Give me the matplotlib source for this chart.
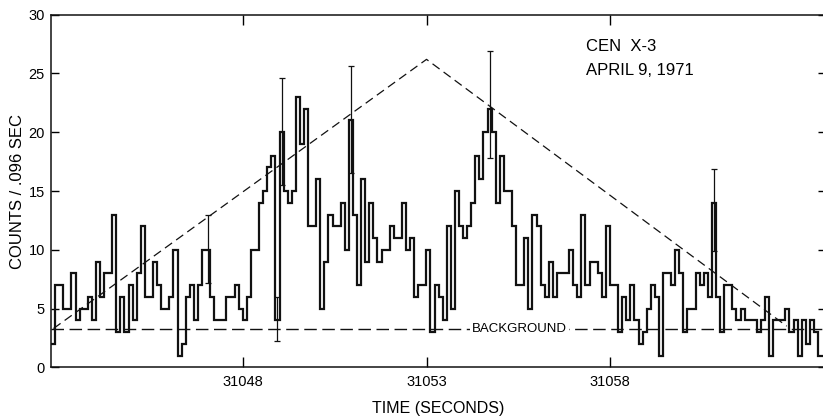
import numpy as np
import matplotlib
matplotlib.use("Agg")
import matplotlib.pyplot as plt

plt.rcParams["font.family"] = ["Liberation Sans", "DejaVu Sans"]

# Counts per time bin (Cen X-3, 1971 April 9)
t_start = 31042.784
bin_width = 0.111
counts = [
    2, 7, 7, 5, 5, 8, 4, 5, 5, 6, 4, 9, 6, 8, 8, 13, 3, 6, 3, 7,
    4, 8, 12, 6, 6, 9, 7, 5, 5, 6, 10, 1, 2, 6, 7, 4, 7, 10, 10, 6,
    4, 4, 4, 6, 6, 7, 5, 4, 6, 10, 10, 14, 15, 17, 18, 4, 20, 15, 14, 15,
    23, 19, 22, 12, 12, 16, 5, 9, 13, 12, 12, 14, 10, 21, 13, 7, 16, 9, 14, 11,
    9, 10, 10, 12, 11, 11, 14, 10, 11, 6, 7, 7, 10, 3, 7, 6, 4, 12, 5, 15,
    12, 11, 12, 14, 18, 16, 20, 22, 20, 14, 18, 15, 15, 12, 7, 7, 11, 5, 13, 12,
    7, 6, 9, 6, 8, 8, 8, 10, 7, 6, 13, 7, 9, 9, 8, 6, 12, 7, 7, 3,
    6, 4, 7, 4, 2, 3, 5, 7, 6, 1, 8, 8, 7, 10, 8, 3, 5, 5, 8, 7,
    8, 6, 14, 6, 3, 7, 7, 5, 4, 5, 4, 4, 4, 3, 4, 6, 1, 4, 4, 4,
    5, 3, 4, 1, 4, 2, 4, 3, 1, 1,
]

# Error bars on selected bins (bin index, lower and upper limits)
err_bins = [38, 55, 56, 73, 107, 162]
err_low = [7.2, 2.2, 15.5, 16.5, 17.8, 9.9]
err_high = [13.0, 6.0, 24.6, 25.6, 26.9, 16.9]

# Background level and triangular envelope
background = 3.3
envelope_t = [31042.85, 31053.0, 31062.8]
envelope_y = [3.3, 26.2, 3.5]

x_ticks = [31048, 31053, 31058]
y_ticks = [0, 5, 10, 15, 20, 25, 30]

fig = plt.figure(figsize=(8.23, 4.19), dpi=100)
ax = fig.add_axes([0.0614, 0.1234, 0.9423, 0.8415])

counts = np.asarray(counts, dtype=float)
edges = t_start + bin_width * np.arange(len(counts) + 1)
centers = 0.5 * (edges[:-1] + edges[1:])

ax.stairs(counts, edges, baseline=None, color="#111111", linewidth=1.6, zorder=3)

eb_x = centers[err_bins]
eb_y = counts[err_bins]
ax.errorbar(eb_x, eb_y,
            yerr=[eb_y - np.array(err_low), np.array(err_high) - eb_y],
            fmt="none", ecolor="#111111", elinewidth=0.9,
            capsize=2.5, capthick=0.9, zorder=4)

ax.axhline(background, color="#111111", linewidth=1.0,
           dashes=(9, 4), zorder=2)
ax.plot(envelope_t, envelope_y, color="#111111", linewidth=0.9,
        dashes=(7, 4), zorder=2)

ax.text(31055.52, background, "BACKGROUND", fontsize=9.5,
        ha="center", va="center", zorder=2.5,
        bbox=dict(facecolor="white", edgecolor="none", pad=1.5))

ax.text(0.6905, 0.898, "CEN  X-3", transform=ax.transAxes,
        fontsize=12, ha="left", va="baseline")
ax.text(0.6905, 0.829, "APRIL 9, 1971", transform=ax.transAxes,
        fontsize=12, ha="left", va="baseline")

ax.set_xlim(31042.77, 31063.87)
ax.set_ylim(0, 30)
ax.set_xticks(x_ticks)
ax.set_xticklabels([str(t) for t in x_ticks])
ax.set_yticks(y_ticks)
ax.set_yticklabels([str(v) for v in y_ticks])

ax.tick_params(axis="x", which="both", direction="in", length=7, width=1.0,
               top=True, bottom=True, labelsize=10.5, pad=5.5)
ax.tick_params(axis="y", which="both", direction="in", length=6, width=1.0,
               left=True, right=True, labelsize=10.5, pad=4)

for s in ax.spines.values():
    s.set_linewidth(1.1)
    s.set_color("#111111")

ax.set_xlabel("TIME (SECONDS)", fontsize=11.5, labelpad=9)
ax.set_ylabel("COUNTS / .096 SEC", fontsize=12, labelpad=2.5)

fig.savefig("out.png", dpi=100)
